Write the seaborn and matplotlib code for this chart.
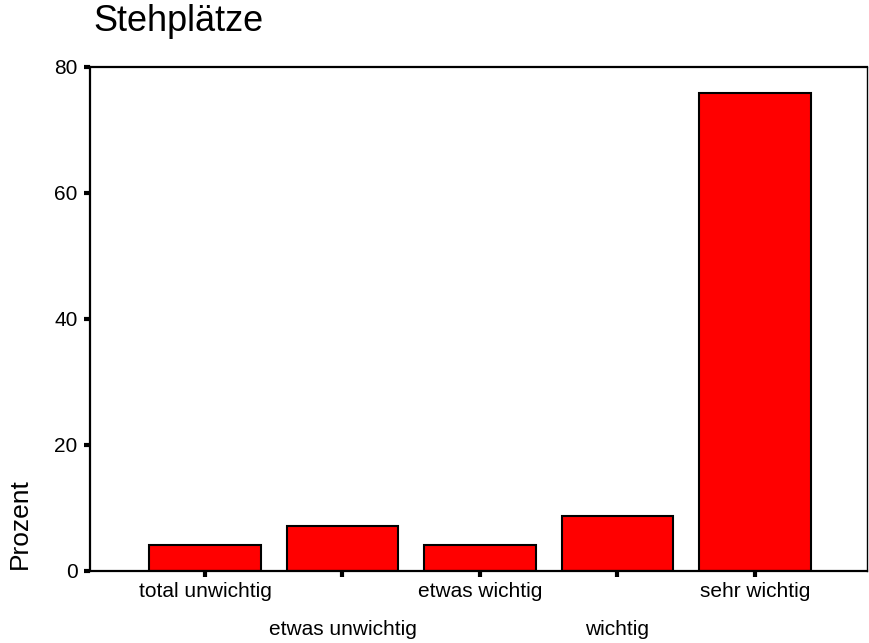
import matplotlib
matplotlib.use("Agg")
import matplotlib.pyplot as plt
import seaborn as sns
import pandas as pd

# Antwortkategorien und Prozentwerte
categories = ["total unwichtig", "etwas unwichtig", "etwas wichtig", "wichtig", "sehr wichtig"]
percent = [4.1, 7.2, 4.1, 8.8, 75.8]
y_ticks = [0, 20, 40, 60, 80]

df = pd.DataFrame({"Kategorie": categories, "Prozent": percent})

sns.set_style("white")
plt.rcParams["font.family"] = ["Liberation Sans", "DejaVu Sans"]
plt.rcParams["text.color"] = "black"

fig = plt.figure(figsize=(8.69, 6.43), dpi=100)
ax = fig.add_axes([90 / 869, 72 / 643, 777 / 869, 504 / 643])

sns.barplot(
    data=df,
    x="Kategorie",
    y="Prozent",
    order=categories,
    color="#ff0000",
    saturation=1,
    width=0.81,
    edgecolor="black",
    linewidth=1.5,
    ax=ax,
)

ax.set_xlim(-0.836, len(categories) - 1 + 0.815)
ax.set_ylim(0, 80)
ax.set_yticks(y_ticks)
ax.set_yticklabels([str(t) for t in y_ticks])
ax.set_xlabel("")
ax.set_ylabel("")

for side in ["left", "bottom", "top"]:
    ax.spines[side].set_linewidth(1.6)
    ax.spines[side].set_color("black")
ax.spines["right"].set_linewidth(1.0)
ax.spines["right"].set_color("black")

ax.tick_params(axis="both", direction="out", length=4, width=3, color="black",
               labelsize=15, labelcolor="black", bottom=True, left=True)
ax.tick_params(axis="x", pad=4)
ax.tick_params(axis="y", pad=5)

# Beschriftungen versetzt in zwei Reihen
for i, lbl in enumerate(ax.get_xticklabels()):
    if i % 2 == 1:
        lbl.set_y(-0.075)

fig.text(93 / 869, 1 - 31 / 643, "Stehplätze", fontsize=26, va="baseline", ha="left",
         color="black")
fig.text(20 / 869, (643 - 569) / 643, "Prozent", fontsize=19, rotation=90,
         va="bottom", ha="center", color="black")

fig.savefig("out.png", dpi=100)
plt.close(fig)
